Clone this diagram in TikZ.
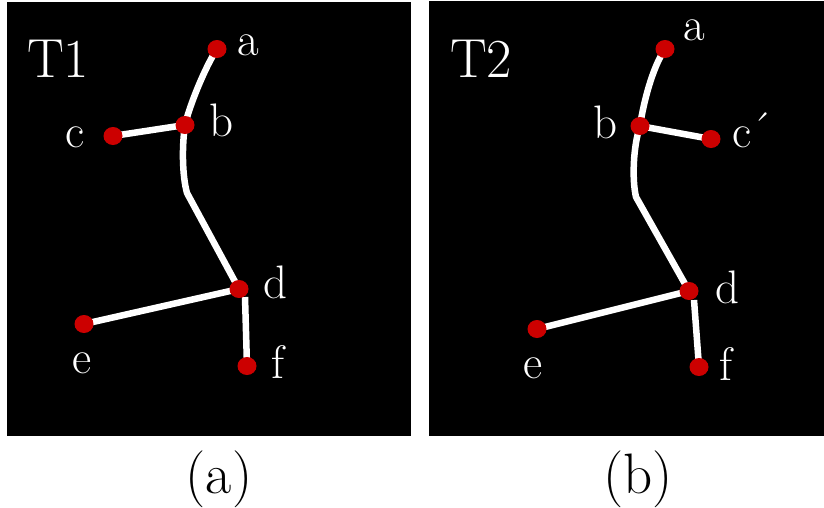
\documentclass[tikz,border=0pt]{standalone}
\usepackage{fontspec}
\setmainfont{Latin Modern Roman}
\usetikzlibrary{shapes.geometric}
\definecolor{dotred}{RGB}{204,0,0}
\tikzset{
  panel/.style={fill=black, draw=none},
  limb/.style={draw=white, line width=6.5pt, line join=round},
  dot/.style={ellipse, fill=dotred, draw=none, minimum width=19pt, minimum height=18pt, inner sep=0pt},
  lbl/.style={text=white, font=\fontsize{47}{47}\selectfont, anchor=base, inner sep=0pt},
  ttl/.style={text=white, font=\fontsize{55}{55}\selectfont, anchor=base, inner sep=0pt},
  captxt/.style={text=black, font=\fontsize{57}{57}\selectfont, anchor=base, inner sep=0pt}
}
\begin{document}
\begin{tikzpicture}[x=1pt,y=-1pt]
\useasboundingbox (0,0) rectangle (824,507);
% panels
\path[panel] (7,2) rectangle (411,436);
\path[panel] (429,1) rectangle (824,436);
% ---- left tree T1 ----
\coordinate (La) at (217,49);
\coordinate (Lb) at (185,125);
\coordinate (Lc) at (113,136);
\coordinate (Lk) at (187,193);
\coordinate (Ld) at (239,289);
\coordinate (Le) at (84,324);
\coordinate (Lf) at (247,366);
\draw[limb] (La) .. controls (205,67) and (189,107) .. (Lb)
  .. controls (182,145) and (182,175) .. (Lk) -- (Ld);
\draw[limb] (Lc) -- (Lb);
\draw[limb] (Le) -- (Ld);
\draw[limb] ([shift={(6,8)}]Ld) -- (Lf);
\foreach \n in {La,Lb,Lc,Ld,Le,Lf} \node[dot] (\n dot) at (\n) {};
\node[lbl] (Lla) at (248,55) {a};
\node[lbl] (Llb) at (222,136) {b};
\node[lbl] (Llc) at (75.5,147) {c};
\node[lbl] (Lld) at (276,298) {d};
\node[lbl] (Lle) at (82,373) {e};
\node[lbl] (Llf) at (278,378) {f};
\node[ttl] (T1) at (58,77) {T1};
% ---- right tree T2 ----
\coordinate (Ra) at (665,49);
\coordinate (Rb) at (640,126);
\coordinate (Rc) at (711,139);
\coordinate (Rk) at (636,197);
\coordinate (Rd) at (689,291);
\coordinate (Re) at (537,329);
\coordinate (Rf) at (699,367);
\draw[limb] (Ra) .. controls (652,68) and (643,105) .. (Rb)
  .. controls (633,147) and (632,180) .. (Rk) -- (Rd);
\draw[limb] (Rb) -- (Rc);
\draw[limb] (Re) -- (Rd);
\draw[limb] ([shift={(5,9)}]Rd) -- (Rf);
\foreach \n in {Ra,Rb,Rc,Rd,Re,Rf} \node[dot] (\n dot) at (\n) {};
\node[lbl] (Rla) at (694,40) {a};
\node[lbl] (Rlb) at (605,138) {b};
\node[lbl, anchor=base west] (Rlc) at (732,147) {c\raisebox{2pt}{\'{}}};
\node[lbl] (Rld) at (727,303) {d};
\node[lbl] (Rle) at (533,378) {e};
\node[lbl] (Rlf) at (725.5,380) {f};
\node[ttl] (T2) at (481,77) {T2};
% captions
\node[captxt] (capa) at (219,493) {(a)};
\node[captxt] (capb) at (638,493) {(b)};
\end{tikzpicture}
\end{document}
